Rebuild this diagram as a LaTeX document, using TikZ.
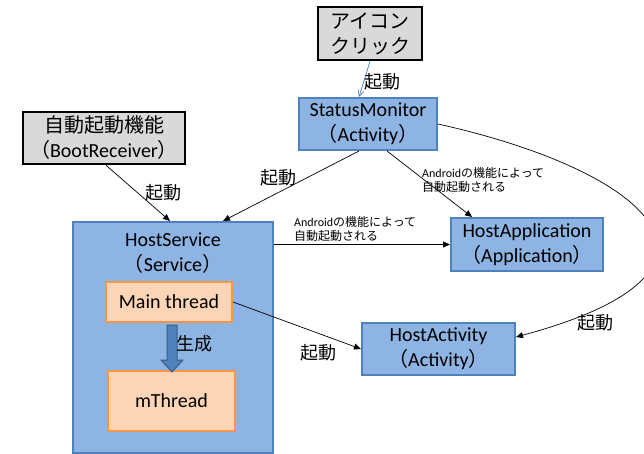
\documentclass[tikz,border=0pt]{standalone}
\usepackage{fontspec}
\setmainfont{Carlito}
\newfontfamily\jpfont{Noto Sans CJK JP}
\newcommand\jtxt[1]{{\jpfont #1}}
\usetikzlibrary{arrows.meta}
\definecolor{boxblue}{HTML}{8EB4E3}
\definecolor{edgeblue}{HTML}{4F81BD}
\definecolor{darkblue}{HTML}{385D8A}
\definecolor{boxorange}{HTML}{FBD5B5}
\definecolor{edgeorange}{HTML}{F79646}
\definecolor{boxgray}{HTML}{D9D9D9}
\definecolor{linkblue}{HTML}{4A7EBB}
\tikzset{
  bigtext/.style={font=\fontsize{20}{25}\selectfont},
  bluebox/.style={draw=edgeblue, fill=boxblue, line width=2pt, inner sep=0pt, align=center, bigtext},
  graybox/.style={draw=black, fill=boxgray, line width=2.5pt, inner sep=0pt, align=center, bigtext},
  orangebox/.style={draw=edgeorange, fill=boxorange, line width=2pt, inner sep=0pt, align=center, bigtext},
  conn/.style={draw=black, line width=0.7pt, -{Triangle[length=7pt,width=6pt]}},
  lbl/.style={font=\fontsize{18}{22}\selectfont\jpfont, inner sep=0pt},
  smalllbl/.style={font=\fontsize{12}{14}\selectfont, inner sep=0pt, align=left, anchor=west},
}
\begin{document}
\begin{tikzpicture}[x=1pt,y=-1pt]
\useasboundingbox (0,0) rectangle (644,454);
% nodes
\node[graybox, minimum width=104pt, minimum height=53pt] (icon) at (370,33.5) {\jtxt{アイコン}\\\jtxt{クリック}};
\node[bluebox, minimum width=138pt, minimum height=52pt] (status) at (368,124) {StatusMonitor\\\jtxt{（}Activity\jtxt{）}};
\node[graybox, minimum width=162pt, minimum height=52pt] (boot) at (104,138) {\jtxt{自動起動機能}\\\jtxt{（}BootReceiver\jtxt{）}};
\node[bluebox, minimum width=200pt, minimum height=231pt] (hs) at (173,337.5) {};
\node[inner sep=0pt, align=center, bigtext] (hstitle) at (173,253) {HostService\\\jtxt{（}Service\jtxt{）}};
\node[orangebox, minimum width=126pt, minimum height=40pt] (main) at (169,302) {Main thread};
\node[orangebox, minimum width=127pt, minimum height=60pt] (mth) at (171.5,401) {mThread};
\node[bluebox, minimum width=152pt, minimum height=53pt] (app) at (527,244.5) {HostApplication\\\jtxt{（}Application\jtxt{）}};
\node[bluebox, minimum width=153pt, minimum height=52pt] (act) at (438.5,349) {HostActivity\\\jtxt{（}Activity\jtxt{）}};
% block arrow main -> mThread
\filldraw[fill=edgeblue, draw=darkblue, line width=1pt]
  (167,325) -- (177,325) -- (177,360) -- (183,360) -- (172,372) -- (161,360) -- (167,360) -- cycle;
\node[lbl] (gen) at (194,344) {生成};
% connectors
\draw[linkblue, line width=0.7pt, -{Straight Barb[length=6pt,width=6pt]}] (icon.south) -- ([xshift=-9pt]status.north);
\node[lbl] (l1) at (382,82) {起動};
\draw[conn] ([xshift=2pt]boot.south) -- ([xshift=-3pt]hs.north);
\node[lbl] (l2) at (163,193) {起動};
\draw[conn] ([xshift=-9pt]status.south) -- ([xshift=50pt]hs.north);
\node[lbl] (l3) at (278,178) {起動};
\draw[conn] ([xshift=19pt]status.south) -- ([xshift=-55pt]app.north);
\node[smalllbl] (l4) at (422,180) {Android\jtxt{の機能によって}\\\jtxt{自動起動される}};
\draw[conn] (app.west -| hs.east) -- (app.west);
\node[smalllbl] (l5) at (294,229) {Android\jtxt{の機能によって}\\\jtxt{自動起動される}};
\draw[conn] (main.east) -- (act.west);
\node[lbl] (l6) at (318,353) {起動};
\draw[conn] (status.east) .. controls (645,170) and (765,270) .. ([yshift=12pt]act.east);
\node[lbl] (l7) at (595,323) {起動};
\end{tikzpicture}
\end{document}
